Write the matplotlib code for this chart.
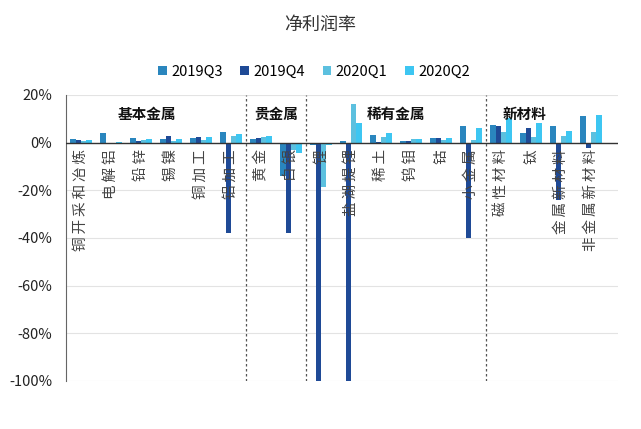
import matplotlib
matplotlib.use("Agg")
import matplotlib.pyplot as plt
import numpy as np

plt.rcParams['font.family'] = ['Noto Sans CJK SC', 'DejaVu Sans']

categories = ['铜开采和冶炼', '电解铝', '铅锌', '锡镍', '铜加工', '铝加工',
              '黄金', '白银',
              '锂', '盐湖提锂', '稀土', '钨钼', '钴', '小金属',
              '磁性材料', '钛', '金属新材料', '非金属新材料']
groups = ['基本金属', '贵金属', '稀有金属', '新材料']
group_sizes = [6, 2, 6, 4]
series_names = ['2019Q3', '2019Q4', '2020Q1', '2020Q2']
q3_2019 = [1.5, 4.0, 2.0, 1.5, 2.0, 4.5, 1.5, -14.0, -1.0, 0.5, 3.4, 0.8, 2.0, 6.8, 7.5, 4.0, 6.8, 11.0]
q4_2019 = [1.2, -0.5, 0.8, 3.0, 2.5, -38.0, 2.0, -38.0, -100.0, -100.0, 0.2, 0.5, 1.8, -40.0, 7.0, 6.3, -24.0, -2.2]
q1_2020 = [0.8, -0.3, 1.0, 0.8, 1.2, 3.0, 2.5, -3.0, -18.5, 16.4, 2.5, 1.5, 1.2, 1.0, 4.6, 2.4, 3.0, 4.6]
q2_2020 = [1.0, 0.2, 1.5, 1.5, 2.5, 3.5, 3.0, -4.5, -1.0, 8.4, 4.2, 1.5, 2.0, 6.0, 10.5, 8.4, 5.0, 11.8]
yticks = [20, 0, -20, -40, -60, -80, -100]

colors = ['#2A86BE', '#1F4A96', '#5CC0DF', '#3DC6F2']
series = [q3_2019, q4_2019, q1_2020, q2_2020]

fig = plt.figure(figsize=(6.41, 4.29), dpi=100)
ax = fig.add_axes([66/641, (429-381)/429, (618-66)/641, (381-95)/429])

x = np.arange(len(categories))
w = 0.18
for i, (vals, c, name) in enumerate(zip(series, colors, series_names)):
    ax.bar(x + (i - 1.5) * w, vals, width=w, color=c, label=name, zorder=3)

ax.set_ylim(-100, 20)
ax.set_xlim(-0.5, -0.5 + 552/30)
ax.set_yticks(yticks)
ax.set_yticklabels([f'{v}%' for v in yticks], fontsize=10.5, color='#222222')
ax.set_xticks([])
ax.tick_params(axis='y', length=0, pad=10)
ax.grid(axis='y', color='#E3E3E3', linewidth=0.8, zorder=0)
for s in ['top', 'right', 'bottom']:
    ax.spines[s].set_visible(False)
ax.spines['left'].set_color('#666666')
ax.axhline(0, color='#333333', linewidth=1.0, zorder=4)

# group separators and labels
group_label_x = [2.2, 6.5, 10.5, 14.8]
start = 0
for g, n, gx in zip(groups, group_sizes, group_label_x):
    end = start + n
    if end < len(categories):
        ax.axvline(end - 0.5, color='#555555', linestyle=(0, (2, 2)), linewidth=0.9, zorder=5)
    ax.text(gx, 12, g, ha='center', va='center', fontsize=10.5, fontweight='bold',
            color='#111111', zorder=6)
    start = end

for xi, lab in zip(x, categories):
    spaced = '\u2009'.join(lab)
    ax.text(xi, -2.8, spaced, rotation=90, ha='center', va='top', fontsize=10.5,
            color='#444444', zorder=6)

fig.text(0.5, 1 - 25/429, '净利润率', ha='center', va='center', fontsize=13, color='#333333')
leg = fig.legend(loc='center', bbox_to_anchor=(0.49, 1 - 72/429), ncol=4, frameon=False,
                 fontsize=10.5, handlelength=0.6, handleheight=0.6, handletextpad=0.3,
                 columnspacing=1.2)
plt.savefig('out.png', dpi=100)
